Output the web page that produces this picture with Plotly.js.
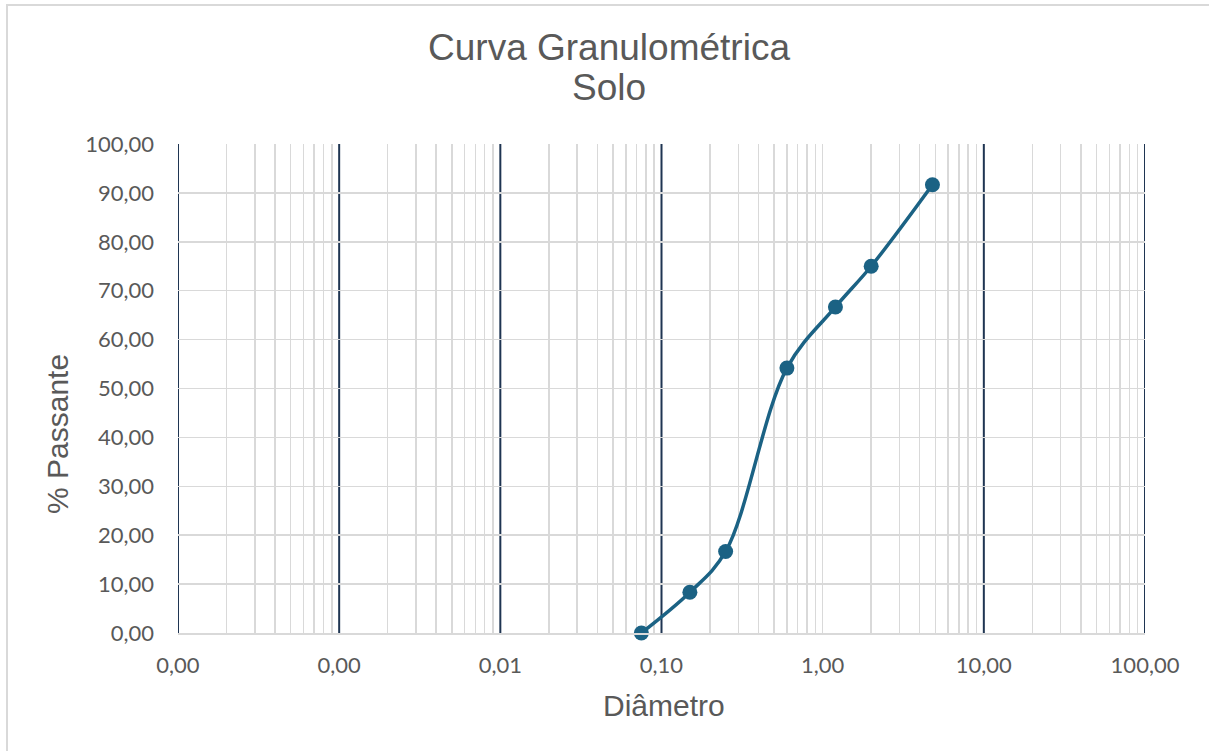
<!DOCTYPE html>
<html>
<head>
<meta charset="utf-8">
<script src="https://cdn.plot.ly/plotly-3.0.1.min.js"></script>
<style>
  html, body { margin: 0; padding: 0; background: #ffffff; }
  #wrap { position: relative; width: 1209px; height: 751px; overflow: hidden; }
  #frame { position: absolute; left: 6px; top: 4px; width: 1300px; height: 800px;
           border-top: 2px solid #d9d9d9; border-left: 2px solid #d9d9d9; box-sizing: border-box; pointer-events: none; z-index: 5; }
  #chart { position: absolute; left: 0; top: 0; width: 1209px; height: 751px; }
</style>
</head>
<body>
<div id="wrap">
  <div id="chart"></div>
  <div id="frame"></div>
</div>
<script>
// ---- data ----
const diametro = [0.075, 0.15, 0.25, 0.6, 1.2, 2.0, 4.8];
const passante = [0, 8.33, 16.67, 54.17, 66.67, 75.0, 91.67];

const xTickVals = [0.0001, 0.001, 0.01, 0.1, 1, 10, 100];
const xTickText = ["0,00", "0,00", "0,01", "0,10", "1,00", "10,00", "100,00"];
const darkDecades = [0.0001, 0.001, 0.01, 0.1, 10, 100];

const titleLine1 = "Curva Granulométrica";
const titleLine2 = "Solo";
const xTitle = "Diâmetro";
const yTitle = "% Passante";

// light grid values: 2..9 in each decade, plus the 1,00 line (grey in the reference)
const minorVals = [1];
for (let e = -4; e < 2; e++) {
  for (let m = 2; m <= 9; m++) minorVals.push(m * Math.pow(10, e));
}

const grey = '#595959';
const gridCol = '#d9d9d9';
const lineCol = '#1b6284';

const trace = {
  x: diametro,
  y: passante,
  type: 'scatter',
  mode: 'lines+markers',
  line: { color: lineCol, width: 3.5, shape: 'spline', smoothing: 1 },
  marker: { color: lineCol, size: 15, symbol: 'circle' },
  cliponaxis: false,
  hoverinfo: 'x+y'
};

const shapes = darkDecades.map(v => ({
  type: 'line', xref: 'x', yref: 'paper', x0: v, x1: v, y0: 0, y1: 1,
  line: { color: '#1f3552', width: 2 }, layer: 'between'
}));

const L = 178, R = 1145, T = 144, B = 633, W = 1209, H = 751;
const px = x => (x - L) / (R - L);
const py = y => (B - y) / (B - T);

const layout = {
  width: W, height: H,
  margin: { l: L, r: W - R, t: T, b: H - B, pad: 0 },
  paper_bgcolor: 'rgba(0,0,0,0)',
  plot_bgcolor: '#ffffff',
  separators: ',.',
  showlegend: false,
  title: {
    text: titleLine1,
    x: 609 / W, xref: 'container', xanchor: 'center',
    y: 1 - 47 / H, yref: 'container', yanchor: 'middle',
    font: { family: 'Liberation Sans, Arial, sans-serif', size: 37, color: grey }
  },
  xaxis: {
    type: 'log',
    range: [-4, 2],
    tickmode: 'array',
    tickvals: xTickVals,
    ticktext: xTickText,
    ticks: '',
    ticklabelstandoff: 12,
    showgrid: false,
    minor: { tickmode: 'array', tickvals: minorVals, showgrid: true, gridcolor: gridCol, gridwidth: 1.5, ticks: '' },
    showline: true, linecolor: gridCol, linewidth: 2,
    zeroline: false,
    tickfont: { family: 'Lato, sans-serif', size: 22, color: grey },
    fixedrange: true
  },
  yaxis: {
    range: [0, 100],
    dtick: 10,
    tick0: 0,
    tickformat: '.2f',
    ticks: '',
    ticklabelstandoff: 23,
    showgrid: true,
    gridcolor: gridCol,
    gridwidth: 1.5,
    showline: false,
    zeroline: false,
    tickfont: { family: 'Lato, sans-serif', size: 22, color: grey },
    fixedrange: true
  },
  shapes: shapes,
  annotations: [
    {
      text: titleLine2, xref: 'paper', yref: 'paper',
      x: px(609), y: py(87), xanchor: 'center', yanchor: 'middle',
      showarrow: false,
      font: { family: 'Liberation Sans, Arial, sans-serif', size: 37, color: grey }
    },
    {
      text: xTitle, xref: 'paper', yref: 'paper',
      x: px(664), y: py(706), xanchor: 'center', yanchor: 'middle',
      showarrow: false,
      font: { family: 'Liberation Sans, Arial, sans-serif', size: 30, color: grey }
    },
    {
      text: yTitle, xref: 'paper', yref: 'paper',
      x: px(57), y: py(434), xanchor: 'center', yanchor: 'middle',
      textangle: -90,
      showarrow: false,
      font: { family: 'Liberation Sans, Arial, sans-serif', size: 30, color: grey }
    }
  ]
};

Plotly.newPlot('chart', [trace], layout, { displayModeBar: false, staticPlot: true });
</script>
</body>
</html>
